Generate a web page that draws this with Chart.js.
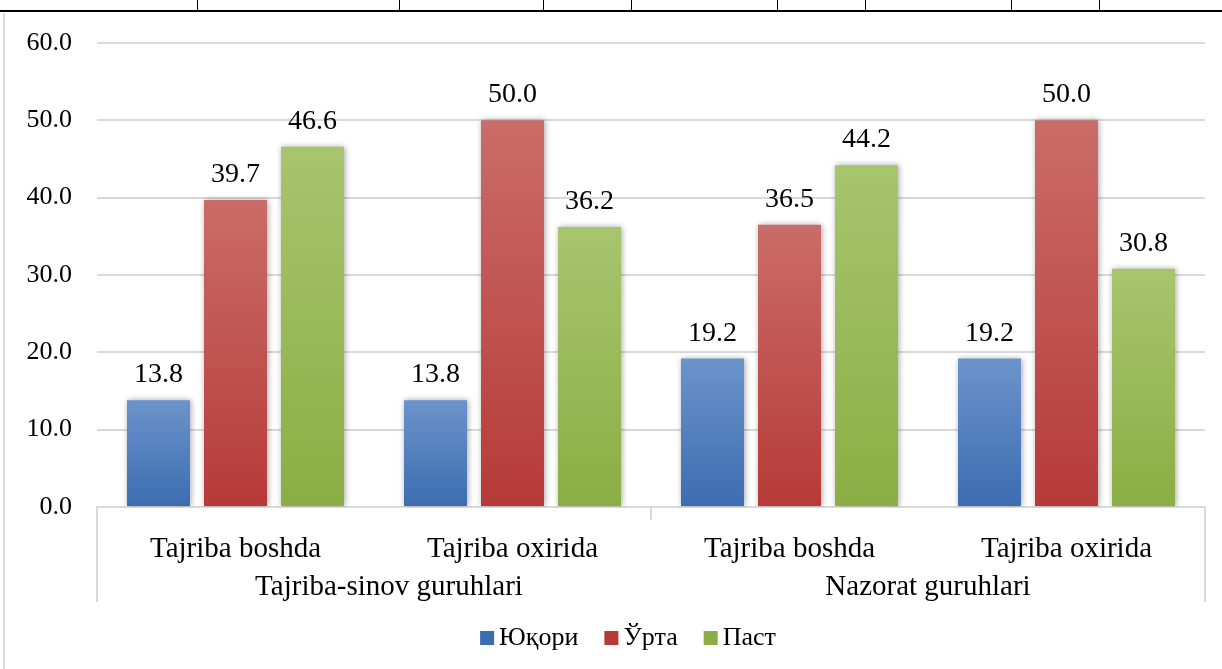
<!DOCTYPE html>
<html>
<head>
<meta charset="utf-8">
<script src="https://cdn.jsdelivr.net/npm/chart.js@4"></script>
<style>
    html, body {margin: 0; padding: 0; background: #fff;}
    #wrap {position: relative; width: 1222px; height: 669px; overflow: hidden;}
    #chart {position: absolute; left: 0; top: 0;}
    .tline {position: absolute; background: #000;}
    .frame {position: absolute; background: #d9d9d9;}
</style>
</head>
<body>
<div id="wrap">
    <canvas id="chart" width="1222" height="669"></canvas>
</div>
<script>
const labels = ["Tajriba boshda", "Tajriba oxirida", "Tajriba boshda", "Tajriba oxirida"];
const groups = ["Tajriba-sinov guruhlari", "Nazorat guruhlari"];
const seriesNames = ["Юқори", "Ўрта", "Паст"];
const yuqori = [13.8, 13.8, 19.2, 19.2];
const urta = [39.7, 50.0, 36.5, 50.0];
const past = [46.6, 36.2, 44.2, 30.8];
const yTicks = [0, 10, 20, 30, 40, 50, 60];

// table lines on top of the page (part of the surrounding document)
const wrap = document.getElementById('wrap');
const tableCols = [197, 399, 543, 631, 777, 865, 1011, 1099];
function addDiv(cls, l, t, w, h) {
    const d = document.createElement('div');
    d.className = cls;
    d.style.left = l + 'px'; d.style.top = t + 'px';
    d.style.width = w + 'px'; d.style.height = h + 'px';
    wrap.appendChild(d);
}
addDiv('tline', 0, 10, 1222, 2);
tableCols.forEach(x => addDiv('tline', x, 0, 1, 11));
addDiv('frame', 3, 13, 2, 656);

const serif = "'Liberation Serif', 'DejaVu Serif', serif";

const colors = [
    ['#6c93cb', '#3b6db0'],
    ['#ca6c69', '#b63a38'],
    ['#a7c56d', '#8aae44']
];

function barGradient(idx) {
    return function (context) {
        const chart = context.chart;
        const {ctx, chartArea, scales} = chart;
        if (!chartArea || context.raw === undefined) return colors[idx][1];
        const top = scales.y.getPixelForValue(context.raw);
        const bottom = scales.y.getPixelForValue(0);
        const g = ctx.createLinearGradient(0, top, 0, bottom);
        g.addColorStop(0, colors[idx][0]);
        g.addColorStop(1, colors[idx][1]);
        return g;
    }
}

const shadowPlugin = {
    id: 'shadow',
    beforeDatasetsDraw(chart) {
        const ctx = chart.ctx;
        ctx.save();
        ctx.shadowColor = 'rgba(0,0,0,0.35)';
        ctx.shadowBlur = 6;
        ctx.shadowOffsetX = 1;
        ctx.shadowOffsetY = 0;
    },
    afterDatasetsDraw(chart) {
        chart.ctx.restore();
    }
};

const labelsPlugin = {
    id: 'valueLabels',
    afterDatasetsDraw(chart) {
        const ctx = chart.ctx;
        ctx.save();
        ctx.font = '28px ' + serif;
        ctx.fillStyle = '#000';
        ctx.textAlign = 'center';
        ctx.textBaseline = 'alphabetic';
        chart.data.datasets.forEach((ds, i) => {
            chart.getDatasetMeta(i).data.forEach((bar, j) => {
                ctx.fillText(ds.data[j].toFixed(1), bar.x, bar.y - 18);
            });
        });
        ctx.restore();
    }
};

const groupPlugin = {
    id: 'groupAxis',
    afterDraw(chart) {
        const ctx = chart.ctx;
        const x = chart.scales.x;
        const base = chart.scales.y.getPixelForValue(0);
        const left = x.left, right = x.right;
        const mid = (x.getPixelForValue(1) + x.getPixelForValue(2)) / 2;
        ctx.save();
        ctx.strokeStyle = '#d9d9d9';
        ctx.lineWidth = 2;
        ctx.beginPath();
        ctx.moveTo(left, base); ctx.lineTo(left, base + 95);
        ctx.moveTo(right, base); ctx.lineTo(right, base + 95);
        ctx.moveTo(mid, base); ctx.lineTo(mid, base + 13);
        ctx.stroke();
        ctx.font = '29px ' + serif;
        ctx.fillStyle = '#000';
        ctx.textAlign = 'center';
        ctx.textBaseline = 'middle';
        ctx.fillText(groups[0], (left + mid) / 2 + 15, base + 80);
        ctx.fillText(groups[1], (mid + right) / 2, base + 80);
        ctx.restore();
    }
};

// legend drawn by hand: small boxes close to the text, like the original
const legendPlugin = {
    id: 'smallLegend',
    afterDraw(chart) {
        const ctx = chart.ctx;
        const box = 14, gap = 5, spacing = 26;
        ctx.save();
        ctx.font = '26px ' + serif;
        ctx.textBaseline = 'middle';
        const widths = seriesNames.map(n => box + gap + ctx.measureText(n).width);
        const total = widths.reduce((a, b) => a + b, 0) + spacing * (seriesNames.length - 1);
        let x = (chart.chartArea.left + chart.chartArea.right) / 2 - total / 2 - 23;
        const y = 638;
        seriesNames.forEach((n, i) => {
            ctx.fillStyle = colors[i][1];
            ctx.fillRect(x, y - box / 2, box, box);
            ctx.fillStyle = '#000';
            ctx.fillText(n, x + box + gap, y);
            x += widths[i] + spacing;
        });
        ctx.restore();
    }
};

function draw() {
    new Chart(document.getElementById('chart'), {
        type: 'bar',
        data: {
            labels: labels,
            datasets: [
                {label: seriesNames[0], data: yuqori, backgroundColor: barGradient(0)},
                {label: seriesNames[1], data: urta, backgroundColor: barGradient(1)},
                {label: seriesNames[2], data: past, backgroundColor: barGradient(2)}
            ]
        },
        options: {
            responsive: false,
            animation: false,
            events: [],
            categoryPercentage: 0.834,
            barPercentage: 0.818,
            layout: {padding: {left: 0, right: 17, top: 43, bottom: 60}},
            scales: {
                x: {
                    grid: {display: false},
                    border: {display: true, color: '#d9d9d9', width: 2},
                    ticks: {
                        color: '#000',
                        padding: 17,
                        maxRotation: 0,
                        font: {family: serif, size: 29}
                    },
                    afterFit(scale) { scale.height = 102; }
                },
                y: {
                    min: 0,
                    max: 60,
                    afterBuildTicks(scale) { scale.ticks = yTicks.map(v => ({value: v})); },
                    grid: {color: '#d9d9d9', lineWidth: 2, drawTicks: false},
                    border: {display: false},
                    ticks: {
                        color: '#000',
                        padding: 25,
                        callback: v => v.toFixed(1),
                        font: {family: serif, size: 26}
                    },
                    afterFit(scale) { scale.width = 97; }
                }
            },
            plugins: {
                tooltip: {enabled: false},
                legend: {display: false}
            }
        },
        plugins: [shadowPlugin, labelsPlugin, groupPlugin, legendPlugin]
    });
}

document.fonts.load("28px 'Liberation Serif'", "Tajriba Юқори").then(draw, draw);
</script>
</body>
</html>
